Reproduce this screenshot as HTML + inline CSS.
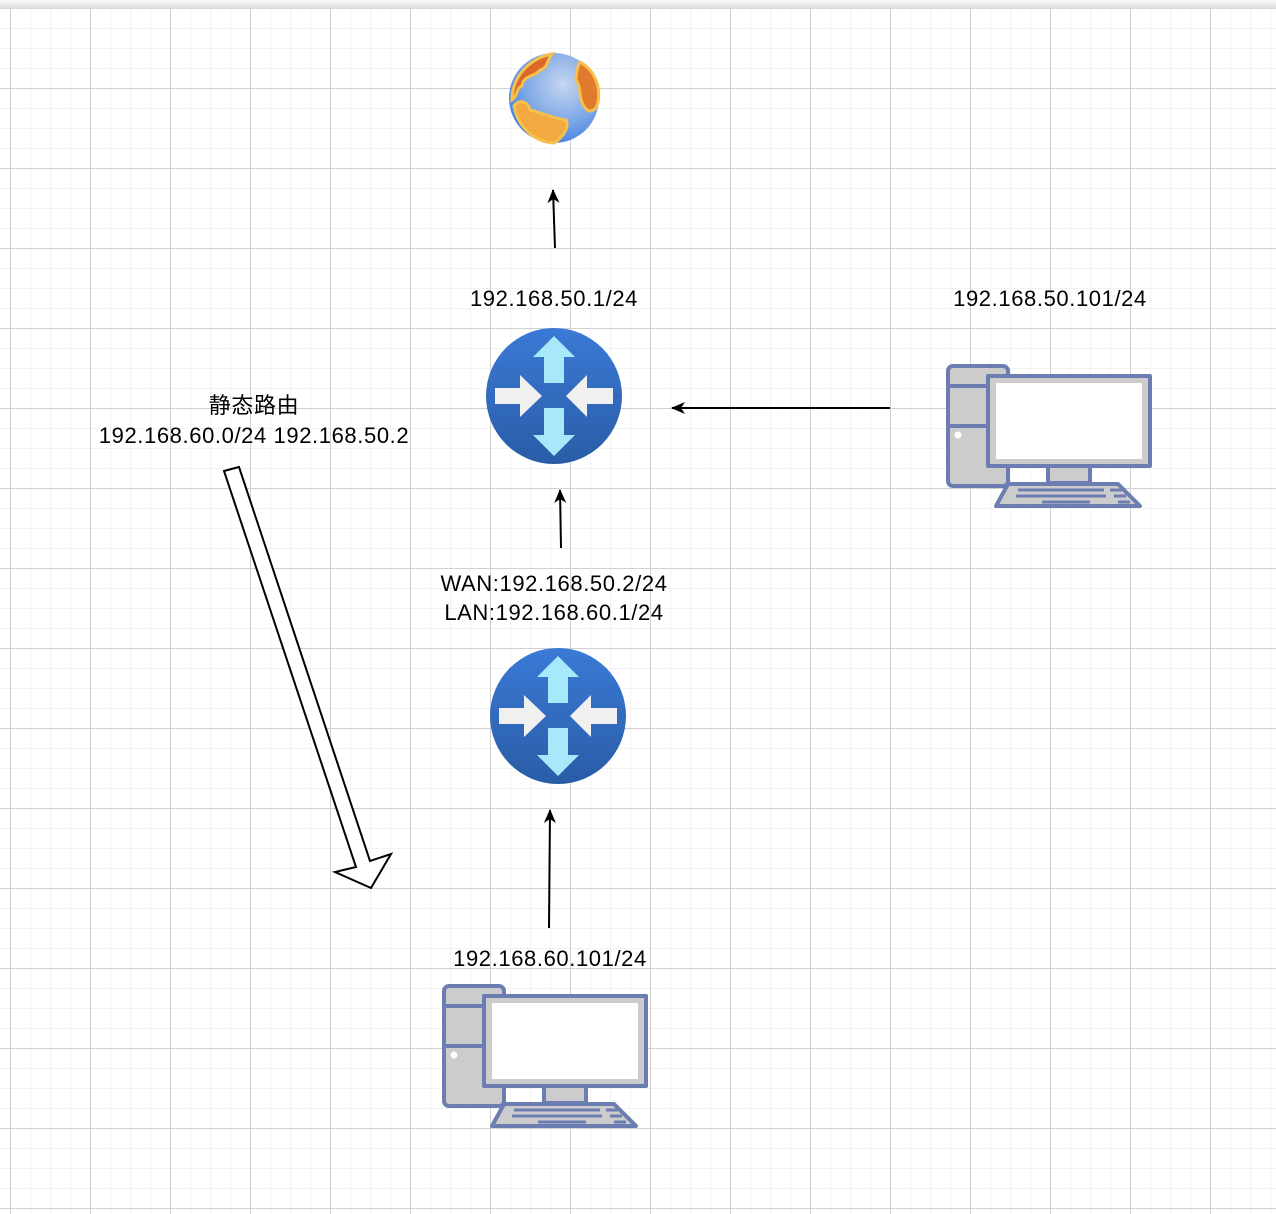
<!DOCTYPE html>
<html><head><meta charset="utf-8"><style>
html,body{margin:0;padding:0;background:#fff;}
svg{display:block;}
text{font-family:"Liberation Sans","Noto Sans CJK SC",sans-serif;font-size:22px;letter-spacing:0.6px;fill:#000;}
</style></head><body>
<svg width="1276" height="1214" viewBox="0 0 1276 1214" xmlns="http://www.w3.org/2000/svg">
<defs>
<pattern id="minor" x="10" y="8" width="20" height="20" patternUnits="userSpaceOnUse">
<path d="M0 0H20M0 0V20" stroke="#efefef" stroke-width="1.5" fill="none"/>
</pattern>
<pattern id="major" x="10" y="8" width="80" height="80" patternUnits="userSpaceOnUse">
<path d="M0 0.5H80M0.5 0V80" stroke="#d0d0d0" stroke-width="1" fill="none"/>
</pattern>
<linearGradient id="top" x1="0" y1="0" x2="0" y2="1"><stop offset="0" stop-color="#fafafa"/><stop offset="1" stop-color="#d8d8d8"/></linearGradient>
<linearGradient id="rg" x1="0" y1="0" x2="0" y2="1"><stop offset="0" stop-color="#3a7ad6"/><stop offset="1" stop-color="#2a5ca6"/></linearGradient>
<radialGradient id="gl" cx="0.6" cy="0.35" r="0.7"><stop offset="0" stop-color="#c5d6f0"/><stop offset="0.6" stop-color="#7ea7e6"/><stop offset="1" stop-color="#3f7ee6"/></radialGradient>
<marker id="ah" markerWidth="14" markerHeight="14" refX="13" refY="7" orient="auto" markerUnits="userSpaceOnUse"><path d="M0 1L14 7L0 13L4 7Z" fill="#000"/></marker>
<g id="router">
<circle r="68" fill="url(#rg)"/>
<path d="M0 -60L21 -39L10 -39L10 -13L-10 -13L-10 -39L-21 -39Z" fill="#a8e8fb"/>
<path d="M0 60L21 39L10 39L10 12L-10 12L-10 39L-21 39Z" fill="#a8e8fb"/>
<path d="M-12 0L-34 -21L-34 -8L-59 -8L-59 8L-34 8L-34 21Z" fill="#f0f0f0"/>
<path d="M12 0L33 -21L33 -8L59 -8L59 8L33 8L33 21Z" fill="#f0f0f0"/>
</g>
<g id="pc" stroke="#6b7db1" stroke-width="4" stroke-linejoin="round">
<rect x="2" y="2" width="60" height="120" rx="5" fill="#cccccc"/>
<path d="M2 22H40M2 62H40" fill="none"/>
<rect x="42" y="12" width="162" height="90" fill="#cccccc"/>
<rect x="50" y="19" width="146" height="76" fill="#ffffff" stroke="none"/>
<rect x="102" y="102" width="42" height="17" fill="#cccccc"/>
<path d="M62 120L172 120L194 142L50 142Z" fill="#cccccc"/>
<path d="M72 126H158M164 126H176M70 132H160M168 132H180M96 138H144M172 138H184" stroke-width="3" fill="none"/>
<circle cx="12" cy="71" r="3.5" fill="#fff" stroke="none"/>
</g>
</defs>
<rect width="1276" height="1214" fill="#fff"/>
<rect width="1276" height="1214" fill="url(#minor)"/>
<rect width="1276" height="1214" fill="url(#major)"/>
<rect width="1276" height="9" fill="url(#top)"/>

<!-- globe -->
<g>
<circle cx="554" cy="98" r="45" fill="url(#gl)"/>
<path d="M512 98C513 76 530 58 552 54C546 62 548 68 540 70C534 78 524 74 522 86C516 88 518 96 512 100Z" fill="#d9682a" stroke="#f4c04e" stroke-width="3"/>
<path d="M514 106C520 98 528 102 530 110C540 112 552 118 566 120C570 128 562 138 554 143C535 142 518 128 514 106Z" fill="#f2a940" stroke="#f4c04e" stroke-width="3"/>
<path d="M580 62C594 70 601 85 598 102C596 112 588 114 584 106C578 98 582 88 576 80C576 72 578 66 580 62Z" fill="#e07a2c" stroke="#f4c04e" stroke-width="3"/>
</g>

<!-- routers -->
<use href="#router" x="554" y="396"/>
<use href="#router" x="558" y="716"/>

<!-- computers -->
<use href="#pc" x="946" y="364"/>
<use href="#pc" x="442" y="984"/>

<!-- connectors -->
<g stroke="#000" stroke-width="2" fill="none">
<line x1="555" y1="248" x2="553" y2="190" marker-end="url(#ah)"/>
<line x1="890" y1="408" x2="672" y2="408" marker-end="url(#ah)"/>
<line x1="561" y1="548" x2="560" y2="490" marker-end="url(#ah)"/>
<line x1="549" y1="928" x2="550" y2="810" marker-end="url(#ah)"/>
</g>

<!-- hollow arrow -->
<path d="M224 471L239 467L370 861L391 854L371 888L335 872L356 867Z" fill="#fff" stroke="#000" stroke-width="2" stroke-linejoin="miter"/>

<!-- labels -->
<text x="554" y="306" text-anchor="middle">192.168.50.1/24</text>
<text x="1050" y="306" text-anchor="middle">192.168.50.101/24</text>
<text x="254" y="413" text-anchor="middle">静态路由</text>
<text x="254" y="443" text-anchor="middle">192.168.60.0/24 192.168.50.2</text>
<text x="554" y="591" text-anchor="middle">WAN:192.168.50.2/24</text>
<text x="554" y="620" text-anchor="middle">LAN:192.168.60.1/24</text>
<text x="550" y="966" text-anchor="middle">192.168.60.101/24</text>
</svg>
</body></html>
